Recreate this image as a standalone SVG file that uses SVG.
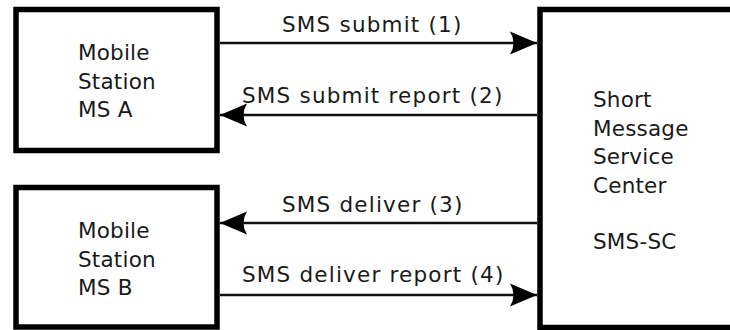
<svg xmlns="http://www.w3.org/2000/svg" width="730" height="330" viewBox="0 0 730 330">
  <style>
    .box { fill: #ffffff; stroke: #000000; stroke-width: 5.5; }
    .lbl { font-family: "DejaVu Sans", "Liberation Sans", sans-serif; font-size: 21.5px; fill: #1a1a1a; letter-spacing: 0.2px; }
    .msg { font-family: "DejaVu Sans", "Liberation Sans", sans-serif; font-size: 21.5px; fill: #1a1a1a; letter-spacing: 1.2px; }
    .wire { fill: none; stroke: #111111; stroke-width: 2.5; marker-end: url(#head); }
  </style>
  <defs>
    <marker id="head" markerUnits="userSpaceOnUse" markerWidth="30" markerHeight="26" refX="28" refY="12" orient="auto" overflow="visible">
      <path d="M28,12 L1,0.5 Q8,12 1,23.5 Z" fill="#000000"/>
    </marker>
  </defs>
  <rect width="730" height="330" fill="#ffffff"/>

  <g id="ms-a">
    <rect class="box" x="16" y="9.5" width="201" height="141"/>
    <text class="lbl" x="78" y="60">Mobile</text>
    <text class="lbl" x="78" y="88.5">Station</text>
    <text class="lbl" x="78" y="117">MS A</text>
  </g>

  <g id="ms-b">
    <rect class="box" x="16" y="187.5" width="201" height="139.5"/>
    <text class="lbl" x="78" y="238">Mobile</text>
    <text class="lbl" x="78" y="266.5">Station</text>
    <text class="lbl" x="78" y="295">MS B</text>
  </g>

  <g id="sms-sc">
    <rect class="box" x="540" y="9.5" width="200" height="318"/>
    <text class="lbl" x="593" y="107">Short</text>
    <text class="lbl" x="593" y="135.5">Message</text>
    <text class="lbl" x="593" y="164">Service</text>
    <text class="lbl" x="593" y="192.5">Center</text>
    <text class="lbl" x="593" y="249">SMS-SC</text>
  </g>

  <g id="connectors">
    <line class="wire" x1="220" y1="43" x2="537" y2="43"/>
    <text class="msg" x="282" y="31.5">SMS submit (1)</text>
    <line class="wire" x1="537" y1="115" x2="220" y2="115"/>
    <text class="msg" x="242" y="103">SMS submit report (2)</text>
    <line class="wire" x1="537" y1="223" x2="220" y2="223"/>
    <text class="msg" x="282" y="211.5">SMS deliver (3)</text>
    <line class="wire" x1="220" y1="295" x2="537" y2="295"/>
    <text class="msg" x="242" y="282">SMS deliver report (4)</text>
  </g>
</svg>
